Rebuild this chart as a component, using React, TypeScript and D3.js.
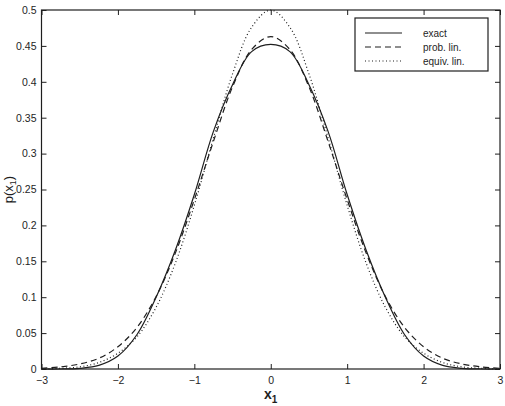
import React, { useEffect, useRef } from "react";
import * as d3 from "d3";

// sample points along x1
const xs = [
  -3, -2.75, -2.5, -2.25, -2, -1.75, -1.5, -1.25, -1, -0.75, -0.5, -0.25, 0,
  0.25, 0.5, 0.75, 1, 1.25, 1.5, 1.75, 2, 2.25, 2.5, 2.75, 3,
];
const exact = [
  0, 0, 0.001, 0.005, 0.018, 0.048, 0.1, 0.165, 0.243, 0.331, 0.396, 0.442,
  0.452, 0.442, 0.396, 0.331, 0.243, 0.165, 0.1, 0.048, 0.018, 0.005, 0.001, 0,
  0,
];
const probLin = [
  0.001, 0.003, 0.007, 0.015, 0.031, 0.058, 0.101, 0.161, 0.236, 0.317, 0.393,
  0.445, 0.463, 0.445, 0.393, 0.317, 0.236, 0.161, 0.101, 0.058, 0.031, 0.015,
  0.007, 0.003, 0.001,
];
const equivLin = [
  0, 0.001, 0.003, 0.009, 0.022, 0.045, 0.086, 0.147, 0.228, 0.322, 0.411,
  0.476, 0.5, 0.476, 0.411, 0.322, 0.228, 0.147, 0.086, 0.045, 0.022, 0.009,
  0.003, 0.001, 0,
];
const seriesNames = ["exact", "prob. lin.", "equiv. lin."];
const dashes = [null, "6,4", "1,2.5"];
const xTicks = [-3, -2, -1, 0, 1, 2, 3];
const yTicks = [0, 0.05, 0.1, 0.15, 0.2, 0.25, 0.3, 0.35, 0.4, 0.45, 0.5];

export default function App() {
  const ref = useRef<SVGSVGElement>(null);
  const width = 505;
  const height = 406;
  const marginLeft = 41.5;
  const marginRight = 5;
  const marginTop = 10;
  const marginBottom = 37;
  const ink = "#1e1e1e";
  const font = "'Liberation Sans', Arial, sans-serif";

  useEffect(() => {
    const svg = d3.select(ref.current);
    svg.selectAll("*").remove();

    const x = d3
      .scaleLinear()
      .domain([-3, 3])
      .range([marginLeft, width - marginRight]);
    const y = d3
      .scaleLinear()
      .domain([0, 0.5])
      .range([height - marginBottom, marginTop]);

    const x0 = x.range()[0];
    const x1 = x.range()[1];
    const y0 = y.range()[0];
    const y1 = y.range()[1];

    const minus = (d: d3.NumberValue) => String(+d).replace("-", "\u2212");

    // bottom axis, ticks point inward
    const bottom = svg
      .append("g")
      .attr("transform", `translate(0,${y0})`)
      .call(
        d3
          .axisBottom(x)
          .tickValues(xTicks)
          .tickFormat(minus)
          .tickSize(-5)
          .tickSizeOuter(0)
          .tickPadding(8)
      );
    // left axis
    const left = svg
      .append("g")
      .attr("transform", `translate(${x0},0)`)
      .call(
        d3
          .axisLeft(y)
          .tickValues(yTicks)
          .tickFormat((d) => String(+d))
          .tickSize(-5)
          .tickSizeOuter(0)
          .tickPadding(5)
      );
    // mirrored top / right ticks
    svg
      .append("g")
      .attr("transform", `translate(0,${y1})`)
      .call(d3.axisTop(x).tickValues(xTicks).tickSize(-5).tickSizeOuter(0).tickFormat(() => ""));
    svg
      .append("g")
      .attr("transform", `translate(${x1},0)`)
      .call(d3.axisRight(y).tickValues(yTicks).tickSize(-5).tickSizeOuter(0).tickFormat(() => ""));

    svg.selectAll(".domain").remove();
    svg.selectAll(".tick line").attr("stroke", ink);
    [bottom, left].forEach((g) =>
      g
        .selectAll("text")
        .attr("font-family", font)
        .attr("font-size", 10.5)
        .attr("fill", ink)
    );

    // frame
    svg
      .append("rect")
      .attr("x", x0)
      .attr("y", y1)
      .attr("width", x1 - x0)
      .attr("height", y0 - y1)
      .attr("fill", "none")
      .attr("stroke", ink)
      .attr("stroke-width", 1.2);

    const curves = [exact, probLin, equivLin];
    const line = d3
      .line<number>()
      .x((_, i) => x(xs[i]))
      .y((d) => y(d))
      .curve(d3.curveCatmullRom);

    curves.forEach((vals, k) => {
      svg
        .append("path")
        .datum(vals)
        .attr("fill", "none")
        .attr("stroke", ink)
        .attr("stroke-width", 1.2)
        .attr("stroke-dasharray", dashes[k])
        .attr("d", line);
    });

    // legend
    const lg = svg.append("g").attr("transform", "translate(355,18)");
    lg.append("rect")
      .attr("width", 133)
      .attr("height", 53)
      .attr("fill", "white")
      .attr("stroke", ink)
      .attr("stroke-width", 1.2);
    seriesNames.forEach((name, k) => {
      const ly = 15 + k * 14;
      lg.append("line")
        .attr("x1", 10)
        .attr("x2", 47)
        .attr("y1", ly)
        .attr("y2", ly)
        .attr("stroke", ink)
        .attr("stroke-width", 1.2)
        .attr("stroke-dasharray", dashes[k]);
      lg.append("text")
        .attr("x", 68)
        .attr("y", ly + 3.5)
        .attr("font-family", font)
        .attr("font-size", 10)
        .attr("fill", ink)
        .text(name);
    });

    // axis labels
    const xl = svg
      .append("text")
      .attr("x", (x0 + x1) / 2)
      .attr("y", 399)
      .attr("text-anchor", "middle")
      .attr("font-family", font)
      .attr("font-size", 14)
      .attr("font-weight", "bold")
      .attr("fill", ink);
    xl.append("tspan").text("x");
    xl.append("tspan").attr("font-size", 10).attr("dy", 4).text("1");

    const yl = svg
      .append("text")
      .attr("transform", `translate(13,${(y0 + y1) / 2}) rotate(-90)`)
      .attr("text-anchor", "middle")
      .attr("font-family", font)
      .attr("font-size", 13)
      .attr("fill", ink);
    yl.append("tspan").text("p(x");
    yl.append("tspan").attr("font-size", 9).attr("dy", 3).text("1");
    yl.append("tspan").attr("dy", -3).text(")");
  }, []);

  return (
    <svg
      ref={ref}
      width={width}
      height={height}
      style={{ position: "absolute", left: 0, top: 0, background: "white" }}
    ></svg>
  );
}
